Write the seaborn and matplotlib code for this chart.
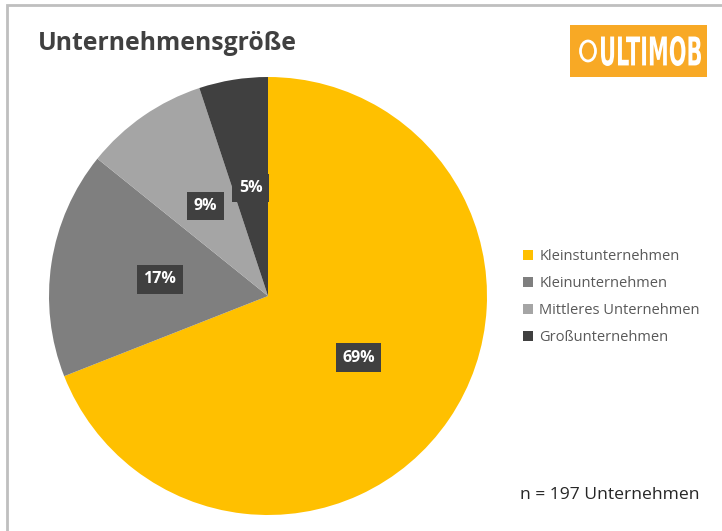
import matplotlib
matplotlib.use("Agg")
import matplotlib.pyplot as plt
import matplotlib.patches as mpatches
from matplotlib.textpath import TextPath
from matplotlib.font_manager import FontProperties
from matplotlib.transforms import Affine2D
import seaborn as sns

categories = ["Kleinstunternehmen", "Kleinunternehmen", "Mittleres Unternehmen", "Großunternehmen"]
counts = [136, 33, 18, 10]
n_total = 197
title = "Unternehmensgröße"

sns.set_theme(style="white")
plt.rcParams["font.family"] = ["Open Sans", "DejaVu Sans"]

colors = ["#FFC000", "#7F7F7F", "#A5A5A5", "#404040"]

W, H = 722, 531
fig = plt.figure(figsize=(W / 100, H / 100), dpi=100)

# frame of the chart area (cut at right and bottom like the screenshot)
fig.patches.append(mpatches.Rectangle((7 / W, -0.05), 1.1, 1 - 5 / H + 0.05,
                                      transform=fig.transFigure, fill=False,
                                      edgecolor="#BFBFBF", linewidth=2))

cx, cy, r = 268, 296, 219
ax = fig.add_axes([(cx - r) / W, (H - cy - r) / H, 2 * r / W, 2 * r / H])
wedges, texts, autotexts = ax.pie(counts, colors=colors, startangle=90, counterclock=False,
                                  autopct="%.0f%%", pctdistance=0.5,
                                  wedgeprops=dict(linewidth=0),
                                  textprops=dict(color="white", fontsize=11.5, fontweight="bold"))
for t in autotexts:
    t.set_bbox(dict(boxstyle="square,pad=0.4", facecolor="#404040", edgecolor="none"))
ax.set_xlim(-1, 1)
ax.set_ylim(-1, 1)
ax.axis("off")

fig.text(38 / W, 1 - 44 / H, title, fontsize=17.8, fontweight="bold", color="#404040",
         va="center", ha="left")

# legend
leg = fig.legend(wedges, categories, loc="upper left", bbox_to_anchor=(510 / W, 1 - 236 / H),
                 frameon=False, fontsize=10.5, labelcolor="#595959", handlelength=0.7,
                 handleheight=0.7, handletextpad=0.4, labelspacing=0.82)

fig.text(700 / W, 1 - 495 / H, f"n = {n_total} Unternehmen", fontsize=12.6, color="#262626",
         ha="right", va="center")

# logo
fig.patches.append(mpatches.Rectangle((570 / W, 1 - 77 / H), 137 / W, 52 / H,
                                      transform=fig.transFigure, facecolor="#F8A925",
                                      edgecolor="none"))
fig.patches.append(mpatches.Ellipse((588 / W, 1 - 51 / H), 15 / W, 20 / H,
                                    transform=fig.transFigure, fill=False,
                                    edgecolor="white", linewidth=2))
tp = TextPath((0, 0), "ULTIMOB", size=10, prop=FontProperties(family="DejaVu Sans", weight="bold"))
bb = tp.get_extents()
x0, x1, ytop, ybot = 601, 701, 36, 66
tr = (Affine2D().translate(-bb.x0, -bb.y0)
      .scale((x1 - x0) / bb.width / W, (ybot - ytop) / bb.height / H)
      .translate(x0 / W, 1 - ybot / H))
fig.patches.append(mpatches.PathPatch(tr.transform_path(tp), transform=fig.transFigure,
                                      facecolor="white", edgecolor="none"))

fig.savefig("out.png", dpi=100)
